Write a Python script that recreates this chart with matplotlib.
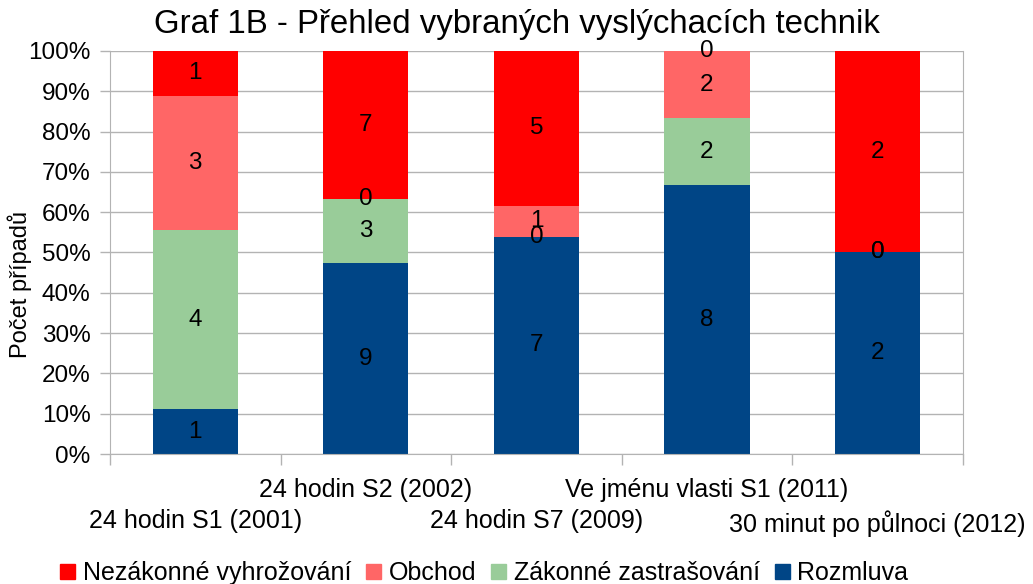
import matplotlib
matplotlib.use("Agg")
import matplotlib.pyplot as plt
import numpy as np
from matplotlib.patches import Patch

plt.rcParams['font.family'] = ['Liberation Sans', 'DejaVu Sans']

categories = ["24 hodin S1 (2001)", "24 hodin S2 (2002)", "24 hodin S7 (2009)",
              "Ve jménu vlasti S1 (2011)", "30 minut po půlnoci (2012)"]
series_names = ["Rozmluva", "Zákonné zastrašování", "Obchod", "Nezákonné vyhrožování"]
rozmluva = [1, 9, 7, 8, 2]
zakonne = [4, 3, 0, 2, 0]
obchod = [3, 0, 1, 2, 0]
nezakonne = [1, 7, 5, 0, 2]
colors = ["#004586", "#99cc99", "#ff6666", "#ff0000"]
yticks = [0, 10, 20, 30, 40, 50, 60, 70, 80, 90, 100]

series = [rozmluva, zakonne, obchod, nezakonne]
data = np.array(series, dtype=float)
totals = data.sum(axis=0)
pct = data / totals * 100

fig = plt.figure(figsize=(10.33, 5.84), dpi=100)
ax = fig.add_axes([0.1065, 0.2226, 0.8255, 0.6901])

x = np.arange(len(categories))
bottom = np.zeros(len(categories))
for i, (vals, p) in enumerate(zip(series, pct)):
    ax.bar(x, p, bottom=bottom, width=0.5, color=colors[i], zorder=2)
    for j in range(len(categories)):
        ax.text(x[j], bottom[j] + p[j] / 2, str(vals[j]), ha='center', va='center',
                fontsize=17.5, color='black', zorder=3)
    bottom += p

ax.set_xlim(-0.5, len(categories) - 0.5)
ax.set_ylim(0, 100)
ax.set_yticks(yticks)
ax.set_yticklabels([f"{t}%" for t in yticks], fontsize=17.5)
ax.yaxis.grid(True, color='#b3b3b3', linewidth=1, zorder=0)
ax.tick_params(axis='y', length=7, color='#b3b3b3', width=1, pad=7)

ax.set_xticks(x)
labels = [("\n" + c) if i % 2 == 0 else (c + "\n") for i, c in enumerate(categories)]
ax.set_xticklabels(labels, fontsize=18, linespacing=1.38)
ax.tick_params(axis='x', which='major', length=0, pad=17)
ax.set_xticks(np.arange(-0.5, len(categories)), minor=True)
ax.tick_params(axis='x', which='minor', length=8, color='#b3b3b3', width=1)

for s in ['left', 'bottom', 'right']:
    ax.spines[s].set_color('#b3b3b3')
ax.spines['top'].set_visible(False)

ax.set_ylabel("Počet případů", fontsize=17)
ax.yaxis.set_label_coords(-0.092, 0.42)

fig.text(0.5, 1 - 33 / 584, "Graf 1B - Přehled vybraných vyslýchacích technik",
         fontsize=23.8, ha='center', va='baseline')

handles = [Patch(color=colors[i]) for i in [3, 2, 1, 0]]
names = [series_names[i] for i in [3, 2, 1, 0]]
fig.legend(handles, names, loc='lower left', bbox_to_anchor=(0.044, -0.028), ncol=4,
           frameon=False, fontsize=18, handlelength=0.6, handleheight=0.6,
           handletextpad=0.3, columnspacing=0.6, borderaxespad=0.2)

fig.savefig("out.png", dpi=100)
